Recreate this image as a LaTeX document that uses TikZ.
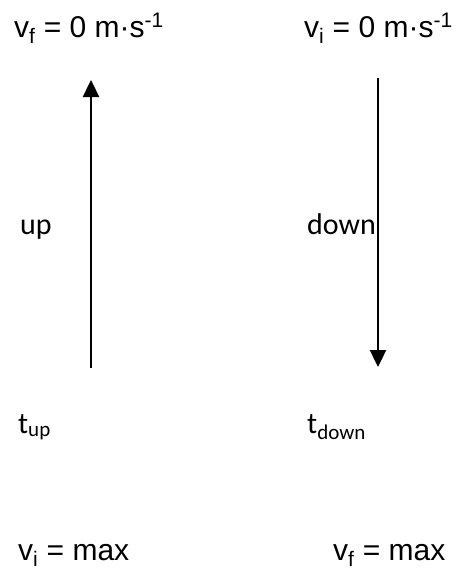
\documentclass[tikz,border=0pt]{standalone}
\usepackage{fontspec}
\setmainfont{Liberation Sans}
\newfontfamily\calib{Carlito}
\usetikzlibrary{arrows.meta}
\tikzset{
  arial/.style={font=\fontsize{30}{34}\selectfont, inner sep=0pt, anchor=base west},
  calibri/.style={font=\calib\fontsize{30}{34}\selectfont, inner sep=0pt, anchor=base west},
  motion/.style={line width=2.4pt, -{Triangle[length=17pt,width=16pt]}}
}
\begin{document}
\begin{tikzpicture}[x=1pt,y=-1pt]
\useasboundingbox (0,0) rectangle (467,571);
\node[arial] (vft) at (14,37) {v\textsubscript{f} = 0 m·s\textsuperscript{-1}};
\node[arial] (vit) at (304,37) {v\textsubscript{i} = 0 m·s\textsuperscript{-1}};
\node[calibri] (up) at (20,234) {up};
\node[calibri] (down) at (307,234) {down};
\node[calibri] (tup) at (18,433) {t\textsubscript{up}};
\node[calibri] (tdown) at (307,433) {t\textsubscript{down}};
\node[arial] (vib) at (18,560) {v\textsubscript{i} = max};
\node[arial] (vfb) at (333,560) {v\textsubscript{f} = max};
\coordinate (upS) at (91,368);
\coordinate (upE) at (91,80);
\coordinate (dnS) at (378,78);
\coordinate (dnE) at (378,367);
\draw[motion] (upS) -- (upE);
\draw[motion] (dnS) -- (dnE);
\end{tikzpicture}
\end{document}
